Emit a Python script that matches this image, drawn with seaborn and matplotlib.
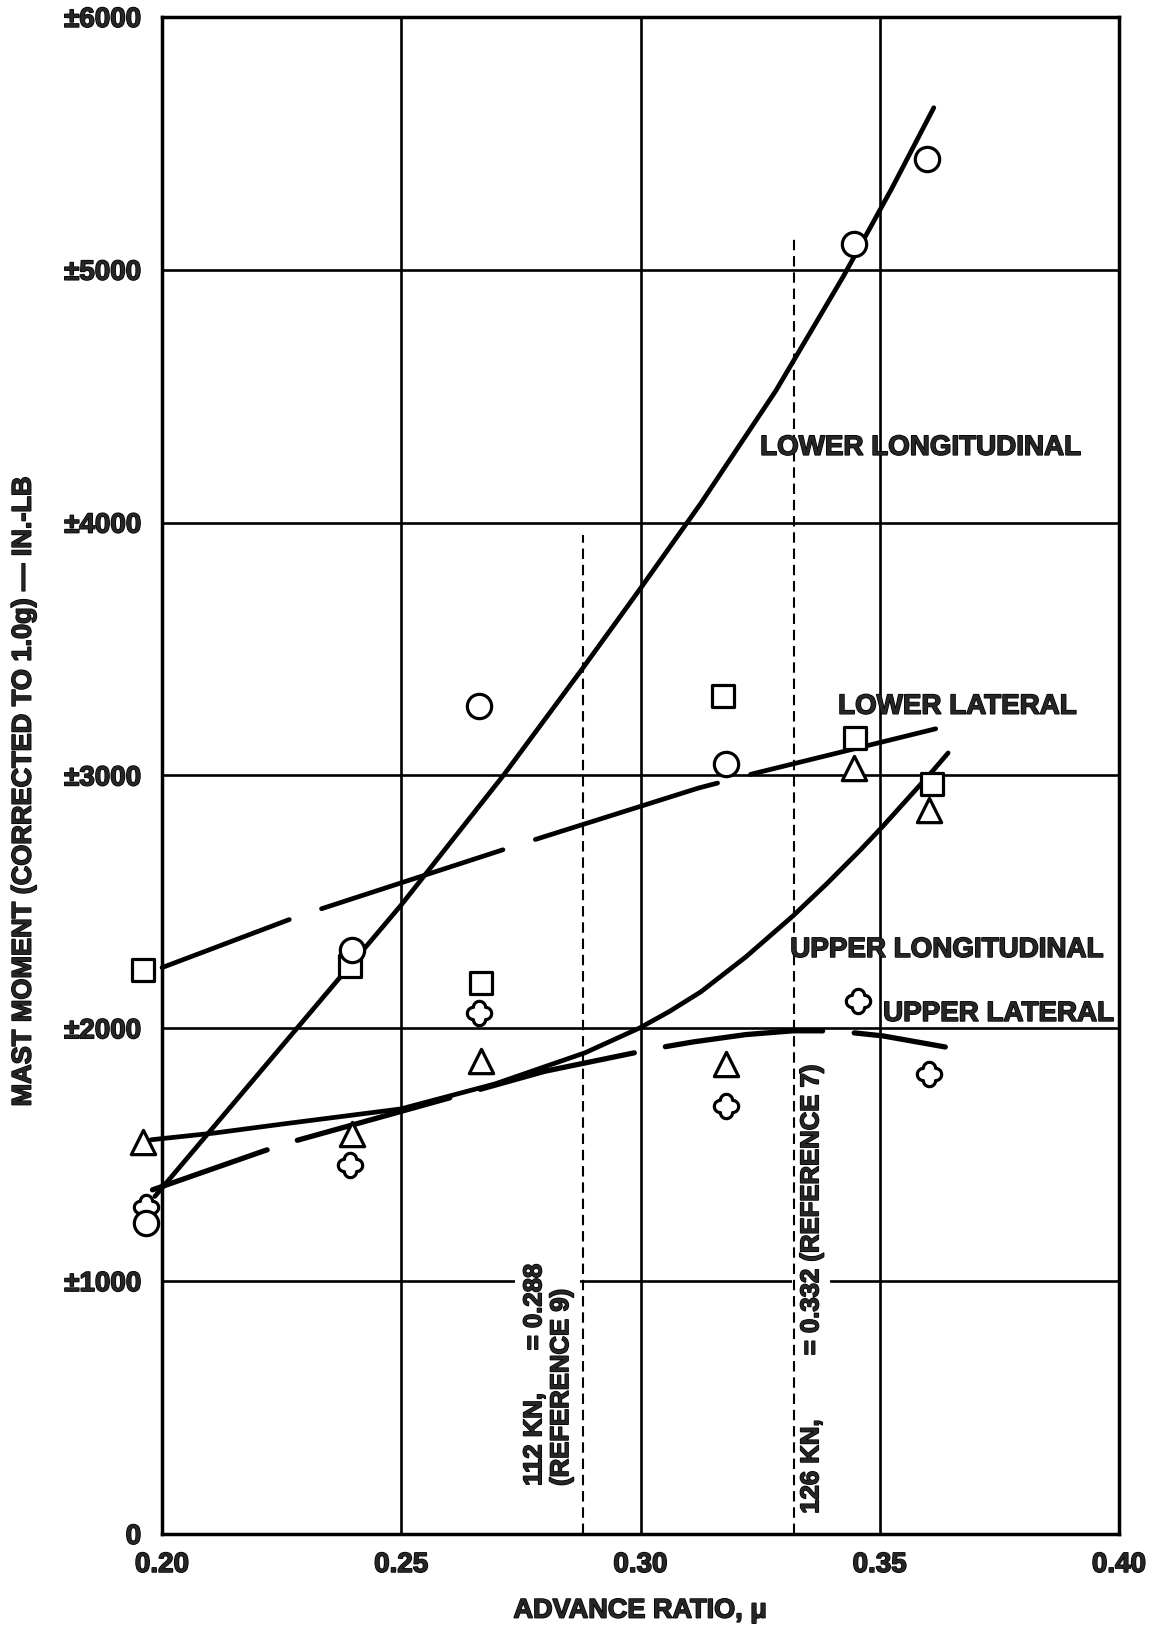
import numpy as np
import pandas as pd
import matplotlib
matplotlib.use("Agg")
import matplotlib.pyplot as plt
import matplotlib.patheffects as pe
from matplotlib.path import Path
from matplotlib.ticker import MultipleLocator, FixedLocator, FixedFormatter
import seaborn as sns

# ---------------- data ----------------
# measured points: advance ratio mu, mast moment (in.-lb)
lower_long_mu = [0.1966, 0.2396, 0.2663, 0.3178, 0.3446, 0.3598]
lower_long_mm = [1230, 2310, 3275, 3045, 5100, 5440]
lower_lat_mu = [0.1961, 0.2393, 0.2667, 0.3172, 0.3448, 0.3609]
lower_lat_mm = [2230, 2246, 2180, 3314, 3150, 2965]
upper_long_mu = [0.1961, 0.2396, 0.2667, 0.3178, 0.3446, 0.3604]
upper_long_mm = [1552, 1581, 1869, 1860, 3031, 2862]
upper_lat_mu = [0.1967, 0.2393, 0.2663, 0.3178, 0.3454, 0.3604]
upper_lat_mm = [1294, 1458, 2062, 1694, 2109, 1821]

# faired curves (traced)
ll_curve_mu = [0.1985, 0.2370, 0.2500, 0.2715, 0.2880, 0.3000, 0.3126, 0.3283,
               0.3424, 0.3525, 0.3613]
ll_curve_mm = [1335, 2197, 2488, 3004, 3426, 3740, 4076, 4522,
               4974, 5321, 5641]
llat_curve_mu = [0.2000, 0.2280, 0.2732, 0.3121, 0.3242, 0.3500, 0.3618]
llat_curve_mm = [2240, 2440, 2718, 2950, 3010, 3130, 3185]
ul_curve_mu = [0.1977, 0.2111, 0.2255, 0.2499, 0.2696, 0.2884, 0.2999, 0.3060,
               0.3126, 0.3220, 0.3319, 0.3390, 0.3460, 0.3507, 0.3608, 0.3643]
ul_curve_mm = [1559, 1586, 1622, 1681, 1780, 1903, 2002, 2066,
               2144, 2282, 2445, 2573, 2706, 2800, 3012, 3089]
ulat_curve_mu = [0.1980, 0.2213, 0.2279, 0.2594, 0.2800, 0.3036, 0.3110, 0.3220,
                 0.3319, 0.3373, 0.3425, 0.3506, 0.3637]
ulat_curve_mm = [1361, 1515, 1555, 1721, 1830, 1922, 1946, 1975,
                 1990, 1990, 1986, 1970, 1926]

# reference speeds
ref_mu = [0.288, 0.332]
ref_top = [3952, 5134]
ref_text = ["112 KN,      = 0.288\n(REFERENCE 9)",
            "126 KN,         = 0.332 (REFERENCE 7)"]
ref_text_mu = [0.2806, 0.3357]
ref_text_mm = [190, 80]

# curve labels
curve_labels = ["LOWER LONGITUDINAL", "LOWER LATERAL",
                "UPPER LONGITUDINAL", "UPPER LATERAL"]
curve_label_mu = [0.3250, 0.3413, 0.3313, 0.3507]
curve_label_mm = [4268, 3244, 2282, 2029]

x_ticks = [0.20, 0.25, 0.30, 0.35, 0.40]
x_tick_labels = ["0.20", "0.25", "0.30", "0.35", "0.40"]
y_ticks = [0, 1000, 2000, 3000, 4000, 5000, 6000]
y_tick_labels = ["0", "\u00b11000", "\u00b12000", "\u00b13000",
                 "\u00b14000", "\u00b15000", "\u00b16000"]

# ---------------- style ----------------
sns.set_style("white")
plt.rcParams["font.family"] = ["Liberation Sans", "DejaVu Sans"]
plt.rcParams["font.weight"] = "bold"
plt.rcParams["axes.labelweight"] = "bold"

heavy = [pe.withStroke(linewidth=1.1, foreground="black")]

fig = plt.figure(figsize=(11.55, 16.31), dpi=100)
ax = fig.add_axes([0.1403, 0.0589, 0.9688 - 0.1403, 0.989 - 0.0589])

# quatrefoil marker (union of four round lobes)
phi = np.linspace(0, 2 * np.pi, 241)
rad = np.zeros_like(phi)
for ang in (0, np.pi / 2, np.pi, 1.5 * np.pi):
    a = phi - ang
    d, r = 0.5, 0.5
    disc = r ** 2 - (d * np.sin(a)) ** 2
    t = np.where(disc >= 0, d * np.cos(a) + np.sqrt(np.clip(disc, 0, None)), 0)
    rad = np.maximum(rad, t)
quatrefoil = Path(np.column_stack([rad * np.cos(phi), rad * np.sin(phi)]), closed=True)

BLK = "black"
LW = 3.4

# curves
sns.lineplot(x=ll_curve_mu, y=ll_curve_mm, ax=ax, sort=False, estimator=None,
             color=BLK, lw=LW, zorder=3, clip_on=False, solid_capstyle="round",
             solid_joinstyle="round")
sns.lineplot(x=ul_curve_mu, y=ul_curve_mm, ax=ax, sort=False, estimator=None,
             color=BLK, lw=LW, zorder=3, clip_on=False, solid_capstyle="round",
             solid_joinstyle="round")
sns.lineplot(x=llat_curve_mu, y=llat_curve_mm, ax=ax, sort=False, estimator=None,
             color=BLK, lw=LW, zorder=3, clip_on=False,
             linestyle=(11.6, (40.4, 7.2)), dash_capstyle="round",
             dash_joinstyle="round")
sns.lineplot(x=ulat_curve_mu, y=ulat_curve_mm, ax=ax, sort=False, estimator=None,
             color=BLK, lw=3.8, zorder=3, clip_on=False,
             linestyle=(7.0, (30.0, 6.0)), dash_capstyle="round",
             dash_joinstyle="round")

# reference dashed verticals
ax.vlines(ref_mu, 0, ref_top, colors=BLK, lw=1.5, linestyles=(0, (5.0, 2.8)), zorder=4)

# markers
mk_kw = dict(color="white", edgecolor=BLK, linewidth=2.3, zorder=6, clip_on=False, legend=False)
sns.scatterplot(x=lower_lat_mu, y=lower_lat_mm, marker="s", s=16.5 ** 2, ax=ax, **mk_kw)
sns.scatterplot(x=upper_long_mu, y=upper_long_mm, marker="^", s=17.5 ** 2, ax=ax, **mk_kw)
sns.scatterplot(x=upper_lat_mu, y=upper_lat_mm, marker=quatrefoil, s=17.5 ** 2, ax=ax, **mk_kw)
sns.scatterplot(x=lower_long_mu, y=lower_long_mm, marker="o", s=17.5 ** 2, ax=ax, **mk_kw)

# axes
ax.set_xlim(0.20, 0.40)
ax.set_ylim(0, 6000)
ax.xaxis.set_major_locator(FixedLocator(x_ticks))
ax.xaxis.set_major_formatter(FixedFormatter(x_tick_labels))
ax.yaxis.set_major_locator(FixedLocator(y_ticks))
ax.yaxis.set_major_formatter(FixedFormatter(y_tick_labels))
ax.xaxis.set_minor_locator(MultipleLocator(0.01))
ax.yaxis.set_minor_locator(MultipleLocator(200))
ax.tick_params(which="both", direction="in", top=False, right=False,
               length=16.5, width=2.0, color=BLK)
ax.tick_params(axis="x", which="major", pad=13, labelsize=20)
ax.tick_params(axis="y", which="major", pad=15, labelsize=20)
for lab in ax.get_xticklabels() + ax.get_yticklabels():
    lab.set_fontweight("bold")
    lab.set_path_effects(heavy)

ax.grid(True, which="major", color=BLK, lw=1.9)
for sp in ax.spines.values():
    sp.set_visible(True)
    sp.set_color(BLK)
    sp.set_linewidth(2.5)
    sp.set_zorder(7)

ax.set_xlabel("ADVANCE RATIO, \u03bc", fontsize=19.5, fontweight="bold",
              path_effects=heavy)
ax.set_ylabel("MAST MOMENT (CORRECTED TO 1.0g) \u2014 IN.-LB", fontsize=19.5,
              fontweight="bold", path_effects=heavy)
ax.xaxis.set_label_coords(0.5, -0.042)
ax.yaxis.set_label_coords(-0.131, 0.49)

# curve labels
for t, xm, ym in zip(curve_labels, curve_label_mu, curve_label_mm):
    ax.text(xm, ym, t, fontsize=20, fontweight="bold", ha="left", va="baseline",
            zorder=5, path_effects=heavy)

# reference annotations
for t, xm, ym in zip(ref_text, ref_text_mu, ref_text_mm):
    ax.text(xm, ym, t, fontsize=18.5, fontweight="bold", rotation=90,
            ha="center", va="bottom", multialignment="left", linespacing=1.15,
            zorder=3.5, path_effects=heavy,
            bbox=dict(facecolor="white", edgecolor="none", pad=5))

fig.savefig("out.png", dpi=100, facecolor="white")
